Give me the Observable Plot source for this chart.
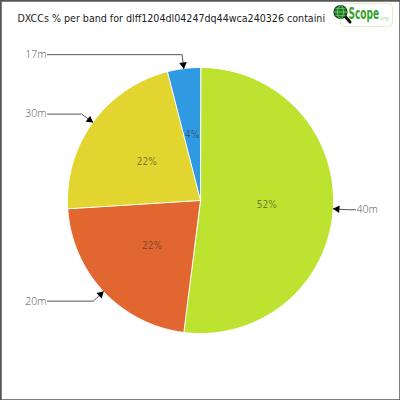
<!DOCTYPE html>
<html>
<head>
<meta charset="utf-8">
<script src="https://cdn.jsdelivr.net/npm/d3@7"></script>
<script src="https://cdn.jsdelivr.net/npm/@observablehq/plot@0.6"></script>
<style>
  html, body { margin: 0; padding: 0; background: #fff; }
  #wrap { position: relative; width: 400px; height: 400px; }
  #logo { position: absolute; left: 332px; top: 2px; }
</style>
</head>
<body>
<div id="wrap"></div>
<script>
const title = "DXCCs % per band for dlff1204dl04247dq44wca240326 containi";
const bands = ["40m", "20m", "30m", "17m"];
const percents = [52, 22, 22, 4];
const colors = ["#bde22f", "#e2662f", "#e2d52f", "#2f9ae2"];

const R = 133;          // pie radius in px
const half = 200 / R;   // half-extent of the domain in pie-radius units

const pie = d3.pie().sort(null).value(d => d.value).startAngle(0).endAngle(2 * Math.PI);
const arcs = pie(bands.map((b, i) => ({band: b, value: percents[i]})));

// polygon points for each slice (unit circle, y up)
const slicePts = [];
for (const a of arcs) {
  slicePts.push({band: a.data.band, x: 0, y: 0});
  const n = Math.max(2, Math.ceil((a.endAngle - a.startAngle) / 0.01));
  for (let k = 0; k <= n; k++) {
    const t = a.startAngle + (a.endAngle - a.startAngle) * k / n;
    slicePts.push({band: a.data.band, x: Math.sin(t), y: Math.cos(t)});
  }
}

const mid = a => (a.startAngle + a.endAngle) / 2;
const pctLabels = arcs.map(a => ({
  band: a.data.band, text: a.data.value + "%",
  x: 0.5 * Math.sin(mid(a)), y: 0.5 * Math.cos(mid(a))
}));

// callout leader lines
const leaders = [];
const heads = [];
const names = [];
for (const a of arcs) {
  const m = mid(a), s = Math.sin(m), c = Math.cos(m);
  const right = s > 0;
  const elbow = 1 + 14 / R;
  const ex = elbow * s, ey = elbow * c;
  const endX = right ? 155 / R : -153 / R;
  leaders.push({band: a.data.band, x: s, y: c});
  leaders.push({band: a.data.band, x: ex, y: ey});
  leaders.push({band: a.data.band, x: endX, y: ey});
  const hr = 1 + 4 / R;
  heads.push({x: hr * s, y: hr * c, rot: m * 180 / Math.PI + 180});
  names.push({text: a.data.band, x: endX, y: ey, anchor: right ? "start" : "end"});
}

const chart = Plot.plot({
  width: 400, height: 400,
  margin: 0,
  x: {domain: [-half, half], axis: null},
  y: {domain: [-half, half], axis: null},
  color: {domain: bands, range: colors},
  style: {background: "#fff"},
  marks: [
    Plot.frame({stroke: "#555", strokeWidth: 2.5}),
    Plot.line(slicePts, {x: "x", y: "y", z: "band", fill: "band", stroke: "#fff", strokeWidth: 1, curve: "linear-closed"}),
    Plot.text(pctLabels, {x: "x", y: "y", text: "text", fill: "#333", fillOpacity: 0.6, fontSize: 10, fontFamily: "DejaVu Sans Condensed, sans-serif"}),
    Plot.line(leaders, {x: "x", y: "y", z: "band", stroke: "#555", strokeWidth: 1}),
    Plot.dot(heads, {x: "x", y: "y", symbol: "triangle2", r: 3.6, fill: "#000", rotate: "rot"}),
    Plot.text(names.filter(d => d.anchor === "end"), {x: "x", y: "y", text: "text", textAnchor: "end", dx: -1, fill: "#555", fontSize: 10.5, fontWeight: 300, fontFamily: "Open Sans, DejaVu Sans, sans-serif"}),
    Plot.text(names.filter(d => d.anchor === "start"), {x: "x", y: "y", text: "text", textAnchor: "start", dx: 1, fill: "#555", fontSize: 10.5, fontWeight: 300, fontFamily: "Open Sans, DejaVu Sans, sans-serif"}),
    Plot.text([title], {frameAnchor: "top-left", textAnchor: "start", lineAnchor: "middle", dx: 17, dy: 18, fill: "#222", fontSize: 10.6, fontFamily: "DejaVu Sans Condensed, sans-serif"})
  ]
});

const wrap = document.getElementById("wrap");
wrap.appendChild(chart);
const logo = document.createElement("div");
logo.id = "logo";
logo.innerHTML = '<svg width="62" height="27" viewBox="0 0 62 27" font-family="DejaVu Sans Condensed, sans-serif">' +
  '<rect x="8.5" y="1.5" width="52" height="23" rx="4" fill="#fff" stroke="#e6edc8"/>' +
  '<line x1="11" y1="12" x2="18" y2="20" stroke="#111" stroke-width="3" stroke-linecap="round"/>' +
  '<circle cx="8.5" cy="10" r="6.5" fill="#1e7a2e" stroke="#0d3d14" stroke-width="1.2"/>' +
  '<ellipse cx="8.5" cy="10" rx="3" ry="6.5" fill="none" stroke="#7fd06a" stroke-width="0.8"/>' +
  '<line x1="2" y1="10" x2="15" y2="10" stroke="#7fd06a" stroke-width="0.8"/>' +
  '<line x1="3.5" y1="6.5" x2="13.5" y2="6.5" stroke="#7fd06a" stroke-width="0.6"/>' +
  '<line x1="3.5" y1="13.5" x2="13.5" y2="13.5" stroke="#7fd06a" stroke-width="0.6"/>' +
  '<text transform="translate(16.5,17) scale(1,1.5)" font-size="10" font-weight="bold" fill="#35a02a">Scope</text>' +
  '<text x="47" y="18" font-size="5.5" fill="#a8d39b">.org</text>' +
  '</svg>';
wrap.appendChild(logo);
</script>
</body>
</html>
